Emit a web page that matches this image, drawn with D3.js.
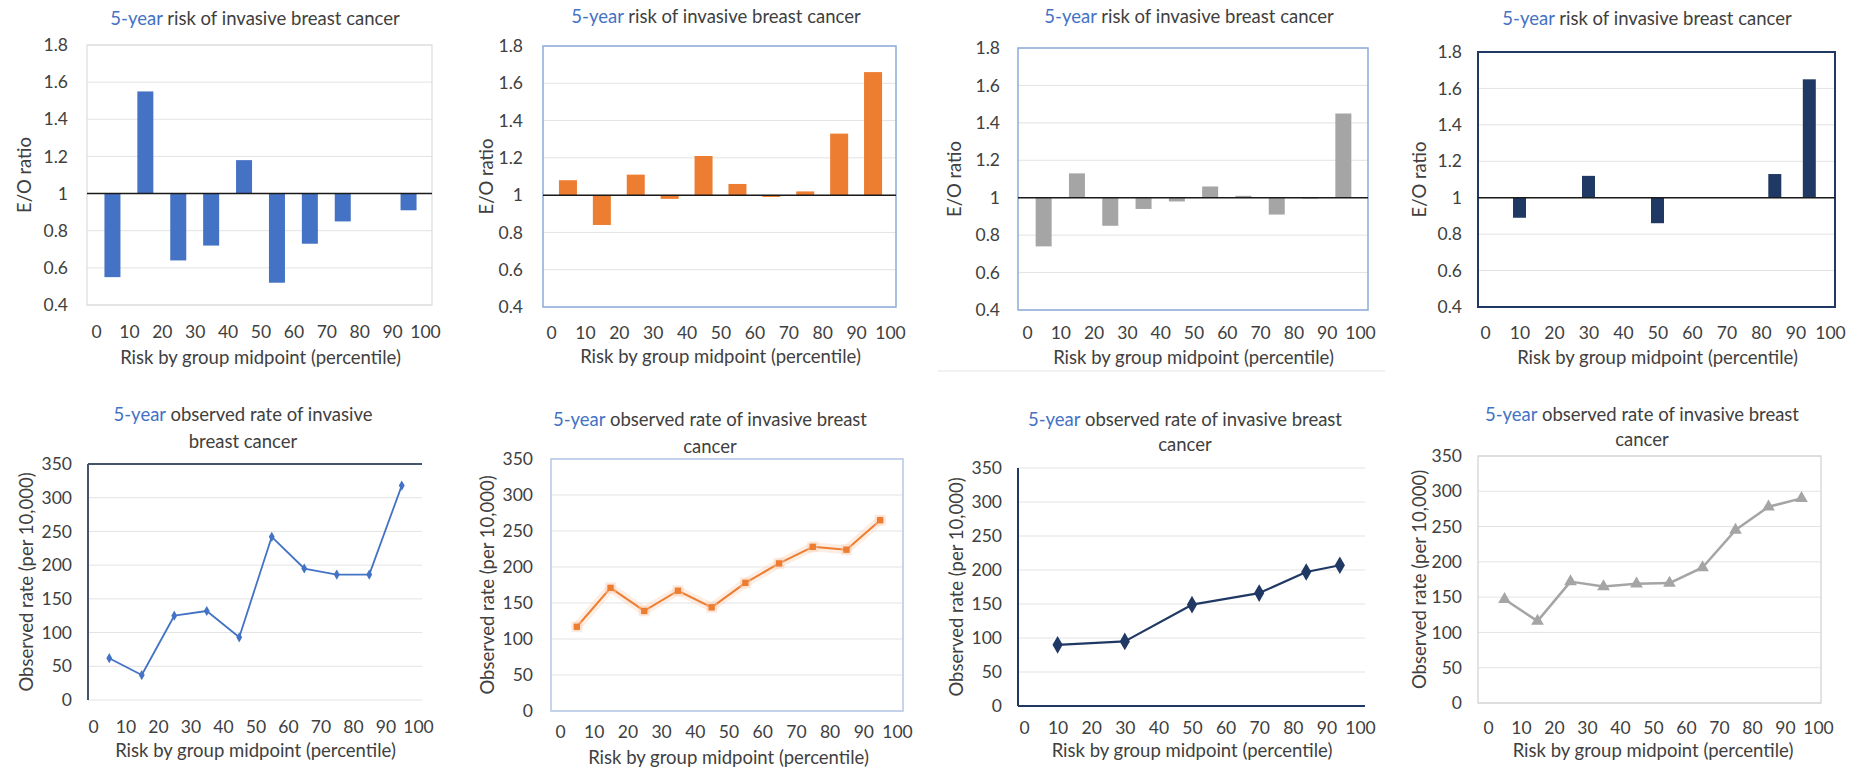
<!DOCTYPE html>
<meta charset="utf-8">
<style>
body { margin: 0; background: #fff; }
svg text { font-family: Lato, "Open Sans", sans-serif; fill: #404040; }
</style>
<body>
<svg width="1852" height="771"></svg>
<script src="https://d3js.org/d3.v7.min.js"></script>
<script>

// ---- data ----
var xTicks = [0, 10, 20, 30, 40, 50, 60, 70, 80, 90, 100];
var eoTicks = [0.4, 0.6, 0.8, 1, 1.2, 1.4, 1.6, 1.8];
var rateTicks = [0, 50, 100, 150, 200, 250, 300, 350];

var decileMid = [5, 15, 25, 35, 45, 55, 65, 75, 85, 95];
var groupMid = [10, 30, 50, 70, 84, 94];

var eoBlue = [0.55, 1.55, 0.64, 0.72, 1.18, 0.52, 0.73, 0.85, 1.0, 0.91];
var eoOrange = [1.08, 0.84, 1.11, 0.98, 1.21, 1.06, 0.99, 1.02, 1.33, 1.66];
var eoGray = [0.74, 1.13, 0.85, 0.94, 0.98, 1.06, 1.01, 0.91, 0.995, 1.45];
var eoNavy = [0.89, 1.12, 0.86, 1.0, 1.13, 1.65];

var rateBlue = [62, 37, 125, 132, 93, 242, 195, 186, 186, 318];
var rateOrange = [117, 171, 139, 167, 144, 178, 205, 228, 224, 265];
var rateNavy = [90, 95, 149, 166, 197, 207];
var rateGray = [147, 116, 172, 165, 169, 170, 192, 245, 278, 290];

var titleTop = ["risk of invasive breast cancer"];
var titleBot5 = ["observed rate of invasive", "breast cancer"];
var titleBot = ["observed rate of invasive breast", "cancer"];

var FS = "18.5px", TFS = "17.5px";
var svg = d3.select("svg");

// draws title, frame, grid, tick labels, axis titles; returns scales
function base(c, yDomain, yTicks, yFmt, yTitle, title) {
  var x = d3.scaleLinear().domain([0, 100]).range([c.x0, c.x100]);
  var y = d3.scaleLinear().domain(yDomain).range([c.B, c.T]);
  var g = svg.append("g");

  title.forEach(function(ln, i) {
    var t = g.append("text").attr("x", c.tx).attr("y", c.ty[i])
      .attr("dy", "0.35em").attr("text-anchor", "middle").style("font-size", FS);
    if (i == 0) {
      t.append("tspan").style("fill", "#4472C4").text("5-year");
      t.append("tspan").text(" " + ln);
    } else t.text(ln);
  });

  g.selectAll(".grid").data(yTicks).enter().append("line")
    .attr("x1", c.L).attr("x2", c.R)
    .attr("y1", function(d) { return y(d); }).attr("y2", function(d) { return y(d); })
    .attr("stroke", "#e3e3e3").attr("stroke-width", 1);

  if (c.border) {
    g.append("rect").attr("x", c.L).attr("y", c.T).attr("width", c.R - c.L).attr("height", c.B - c.T)
      .attr("fill", "none").attr("stroke", c.border).attr("stroke-width", c.bwid || 1.5);
  }
  if (c.lines) {
    c.lines.forEach(function(s) {
      var p = {top: [c.L, c.T, c.R, c.T], left: [c.L, c.T, c.L, c.B], bottom: [c.L, c.B, c.R, c.B]}[s];
      g.append("line").attr("x1", p[0]).attr("y1", p[1]).attr("x2", p[2]).attr("y2", p[3])
        .attr("stroke", c.lineColor).attr("stroke-width", 2);
    });
  }

  var ya = g.append("g").attr("transform", "translate(" + c.yl + ",0)")
    .call(d3.axisLeft(y).tickValues(yTicks).tickFormat(yFmt).tickSize(0).tickPadding(0));
  ya.select(".domain").remove();
  ya.selectAll("text").style("font-size", TFS).style("font-family", null);

  var xa = g.append("g").attr("transform", "translate(0," + c.xl + ")")
    .call(d3.axisBottom(x).tickValues(xTicks).tickSize(0).tickPadding(0));
  xa.select(".domain").remove();
  xa.selectAll("text").attr("dy", "0.35em").style("font-size", TFS).style("font-family", null);

  g.append("text").attr("x", (c.x0 + c.x100) / 2).attr("y", c.xt).attr("dy", "0.35em")
    .attr("text-anchor", "middle").style("font-size", FS)
    .text("Risk by group midpoint (percentile)");
  g.append("text").attr("transform", "translate(" + c.ytx + "," + (c.T + c.B) / 2 + ") rotate(-90)")
    .attr("dy", "0.35em").attr("text-anchor", "middle").style("font-size", FS).text(yTitle);

  return {x: x, y: y, g: g};
}

function fmtEO(d) { return d3.format("")(+d.toFixed(1)); }

function bars(c, mids, vals, color) {
  var s = base(c, [0.4, 1.8], eoTicks, fmtEO, "E/O ratio", titleTop);
  var data = mids.map(function(m, i) { return {m: m, v: vals[i]}; });
  s.g.selectAll(".bar").data(data).enter().append("rect")
    .attr("x", function(d) { return s.x(d.m) - c.bw / 2; })
    .attr("y", function(d) { return Math.min(s.y(d.v), s.y(1)); })
    .attr("width", c.bw)
    .attr("height", function(d) { return Math.abs(s.y(d.v) - s.y(1)); })
    .attr("fill", color);
  s.g.append("line").attr("x1", c.L).attr("x2", c.R).attr("y1", s.y(1)).attr("y2", s.y(1))
    .attr("stroke", "#1a1a1a").attr("stroke-width", 1.5);
}

function lineChart(c, mids, vals, color, sym, size, lw, glow, title) {
  var s = base(c, [0, 350], rateTicks, d3.format("d"), "Observed rate (per 10,000)", title);
  var data = mids.map(function(m, i) { return {m: m, v: vals[i]}; });
  var line = d3.line().x(function(d) { return s.x(d.m); }).y(function(d) { return s.y(d.v); });
  if (glow) {
    s.g.append("path").datum(data).attr("d", line).attr("fill", "none")
      .attr("stroke", glow).attr("stroke-width", 9).attr("stroke-opacity", 0.35)
      .attr("stroke-linejoin", "round").attr("stroke-linecap", "round");
  }
  s.g.append("path").datum(data).attr("d", line).attr("fill", "none")
    .attr("stroke", color).attr("stroke-width", lw).attr("stroke-linejoin", "round");
  var pts = s.g.selectAll(".pt").data(data).enter().append("g")
    .attr("transform", function(d) { return "translate(" + s.x(d.m) + "," + s.y(d.v) + ")"; });
  if (glow) pts.append("path").attr("d", d3.symbol().type(sym).size(size * 3)).attr("fill", glow).attr("opacity", 0.4);
  pts.append("path").attr("d", d3.symbol().type(sym).size(size)).attr("fill", color);
}

// ---- top row: E/O ratio bars ----
bars({L: 87, R: 432, T: 45, B: 305, x0: 96, x100: 425, xl: 332, xt: 358, ytx: 25, yl: 68,
      tx: 255, ty: [19], border: "#dcdcdc", bwid: 1.2, bw: 16}, decileMid, eoBlue, "#4472C4");
bars({L: 543, R: 896, T: 46, B: 307, x0: 551, x100: 890, xl: 333, xt: 357, ytx: 487, yl: 523,
      tx: 716, ty: [17], border: "#8FAADC", bw: 18}, decileMid, eoOrange, "#ED7D31");
bars({L: 1018, R: 1368, T: 48, B: 310, x0: 1027, x100: 1360, xl: 333, xt: 358, ytx: 955, yl: 1000,
      tx: 1189, ty: [17], border: "#8FAADC", bw: 16}, decileMid, eoGray, "#A5A5A5");
bars({L: 1478, R: 1835, T: 52, B: 307, x0: 1485, x100: 1830, xl: 333, xt: 358, ytx: 1420, yl: 1462,
      tx: 1647, ty: [19], border: "#1F3864", bwid: 2, bw: 13}, groupMid, eoNavy, "#1F3864");

// thin separator under the third panel
svg.append("line").attr("x1", 938).attr("x2", 1385).attr("y1", 371).attr("y2", 371)
  .attr("stroke", "#ececec").attr("stroke-width", 1.5);

// ---- bottom row: observed rate lines ----
lineChart({L: 88, R: 422, T: 464, B: 700, x0: 93, x100: 418, xl: 727, xt: 751, ytx: 27, yl: 72,
           tx: 243, ty: [415, 442], lines: ["top", "left"], lineColor: "#44546A"},
          decileMid, rateBlue, "#4472C4", d3.symbolDiamond, 30, 1.8, null, titleBot5);
lineChart({L: 551, R: 903, T: 459, B: 711, x0: 560, x100: 897, xl: 732, xt: 758, ytx: 488, yl: 533,
           tx: 710, ty: [420, 447], border: "#B4C7E7"},
          decileMid, rateOrange, "#ED7D31", d3.symbolSquare, 40, 2, "#F8CBAD", titleBot);
lineChart({L: 1018, R: 1365, T: 468, B: 706, x0: 1024, x100: 1360, xl: 728, xt: 751, ytx: 957, yl: 1002,
           tx: 1185, ty: [420, 445], lines: ["left", "bottom"], lineColor: "#1F3864"},
          groupMid, rateNavy, "#1F3864", d3.symbolDiamond, 90, 2.2, null, titleBot);
lineChart({L: 1478, R: 1821, T: 456, B: 703, x0: 1488, x100: 1818, xl: 728, xt: 751, ytx: 1420, yl: 1462,
           tx: 1642, ty: [415, 440], border: "#d0d0d0", bwid: 1.2},
          decileMid, rateGray, "#A5A5A5", d3.symbolTriangle, 70, 2.5, null, titleBot);

</script>
</body>
